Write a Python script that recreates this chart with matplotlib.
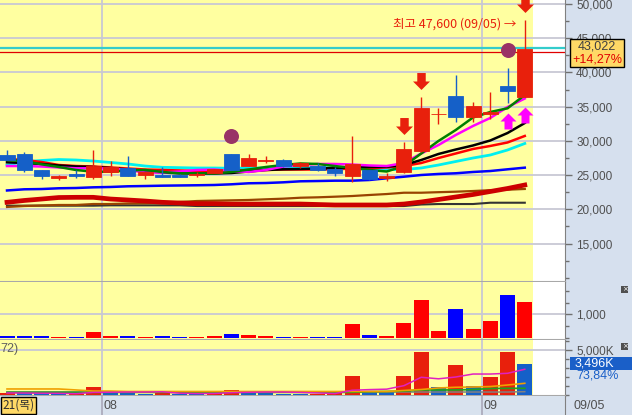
import numpy as np
import matplotlib.pyplot as plt
import matplotlib.ticker as mticker
from matplotlib.patches import Rectangle
from matplotlib.path import Path
from matplotlib.transforms import offset_copy, blended_transform_factory


###  Data  (31 trading days)

dates = ['07/22', '07/25', '07/26', '07/27', '07/28', '07/29',
         '08/01', '08/02', '08/03', '08/04', '08/05',
         '08/08', '08/09', '08/10', '08/11', '08/12',
         '08/16', '08/17', '08/18', '08/19',
         '08/22', '08/23', '08/24', '08/25', '08/26',
         '08/29', '08/30', '08/31',
         '09/01', '09/02', '09/05']

opn = [27950, 28100, 25750, 24600, 25150, 24750, 25450, 26100, 25000, 25050, 25000,
       24950, 25350, 28100, 26350, 27100, 27200, 26350, 26350, 25850, 24850,
       25750, 24550, 25500, 28550, 33900, 36550, 33550, 33900, 38000, 36450]
high = [28650, 28400, 25750, 25000, 25750, 28650, 27050, 27800, 25500, 26250, 25100,
        25500, 25900, 28100, 28100, 27800, 27350, 26900, 26800, 26250, 30700,
        25800, 25350, 29900, 36450, 34750, 39600, 35700, 37200, 40600, 47600]
low = [27200, 25450, 24500, 24300, 24600, 24500, 24850, 24850, 24450, 24700, 24700,
       24700, 25300, 25750, 26350, 26750, 26250, 26100, 25650, 24850, 24050,
       24350, 24200, 25300, 28400, 32400, 32800, 32800, 33150, 35500, 36450]
close = [27200, 25750, 24850, 24850, 24850, 26350, 26200, 24850, 25500, 24750, 24750,
         25100, 25850, 25750, 27500, 27150, 26350, 26800, 25750, 25350, 26600,
         24450, 24850, 28800, 34750, 33950, 33550, 35100, 34250, 37350, 43400]

# moving averages on price
ma_green = [27210, 27060, 26580, 26190, 25750, 25500, 25500, 25680, 25750, 25460, 25270,
            25270, 25240, 25460, 25820, 26190, 26480, 26700, 26630, 26330, 26040,
            25750, 25530, 26330, 28160, 29990, 31590, 33420, 34220, 34760, 36700]
ma_magenta = [26330, 26330, 26260, 26120, 26000, 26000, 25970, 25750, 25380, 25380, 25530,
              25750, 25820, 25600, 25460, 25750, 26260, 26480, 26630, 26630, 26550,
              26410, 26330, 26770, 28160, 29400, 30860, 32180, 33350, 34950, 36190]
ma_black = [26870, 26770, 26630, 26410, 26260, 26190, 26040, 25820, 25600, 25380, 25270,
            25240, 25240, 25310, 25530, 25750, 25850, 25900, 25970, 26040, 26120,
            26190, 26230, 26480, 27210, 28090, 28740, 29330, 30060, 31150, 32610]
ma_red = [27360, 27210, 26920, 26480, 26330, 26260, 26120, 25970, 25820, 25750, 25680,
          25600, 25600, 25680, 25750, 25750, 25820, 25820, 25820, 25850, 25970,
          26040, 26120, 26330, 26770, 27500, 28160, 28820, 29260, 29770, 30720]
ma_cyan = [26480, 26960, 27140, 27280, 27210, 27060, 26850, 26630, 26330, 26140, 26090,
           26040, 26040, 26000, 26040, 26040, 26040, 26090, 26090, 26040, 26040,
           25970, 25820, 25820, 26040, 26480, 26990, 27500, 27940, 28670, 29620]
ma_blue = [22760, 22930, 22970, 23080, 23120, 23220, 23270, 23370, 23410, 23460, 23490,
           23520, 23560, 23660, 23810, 23850, 23950, 24100, 24140, 24190, 24190,
           24290, 24540, 24770, 25020, 25170, 25270, 25460, 25600, 25850, 26090]
ma_darkred = [21030, 21300, 21510, 21730, 21760, 21760, 21510, 21370, 21220, 21030, 20930,
              20830, 20830, 20780, 20780, 20780, 20780, 20780, 20710, 20640, 20640,
              20640, 20640, 20780, 21080, 21440, 21810, 22170, 22610, 23050, 23560]
ma_brown = [20350, 20490, 20570, 20640, 20640, 20780, 20780, 20860, 20890, 20930, 21080,
            21220, 21270, 21320, 21370, 21470, 21560, 21700, 21760, 21850, 21950,
            22100, 22240, 22430, 22430, 22510, 22580, 22680, 22800, 22870, 22980]
ma_gray = [20540, 20540, 20540, 20540, 20540, 20540, 20590, 20590, 20590, 20590, 20590,
           20490, 20490, 20490, 20490, 20490, 20490, 20490, 20490, 20490, 20490,
           20490, 20490, 20490, 20710, 20780, 20780, 20780, 20970, 20970, 20970]

cur_price = 43022
cur_change = '+14,27%'
prev_line = 43600
high_text = '최고 47,600 (09/05) →'

down_arrows = [23, 24, 30]
up_arrows = [29, 30]
circles = [13, 29]

# pane 2 (trading value) and pane 3 (volume, K)
amount = [70, 70, 70, 30, 30, 240, 85, 70, 30, 70, 30,
          30, 70, 170, 115, 70, 30, 30, 30, 45, 600,
          115, 75, 640, 1610, 285, 1225, 370, 710, 1820, 1520]
volume = [200, 180, 170, 100, 110, 900, 300, 250, 100, 250, 120,
          110, 250, 560, 450, 260, 120, 100, 120, 180, 2110,
          450, 370, 2110, 4810, 930, 3330, 1000, 2040, 4810, 3496]
vma_magenta = [230, 220, 200, 190, 150, 290, 310, 330, 330, 360, 200,
               160, 170, 260, 300, 330, 330, 290, 230, 160, 530,
               600, 650, 1040, 1970, 1800, 2000, 2330, 2330, 2410, 2860]
vma_orange = [670, 670, 670, 670, 560, 440, 440, 390, 390, 390, 390,
              390, 390, 390, 390, 390, 390, 390, 390, 390, 390,
              390, 390, 500, 610, 780, 860, 890, 940, 1110, 1300]
vma_green = [300, 300, 300, 300, 300, 300, 300, 300, 300, 300, 300,
             300, 300, 300, 300, 300, 300, 300, 300, 300, 300,
             370, 390, 440, 560, 560, 560, 610, 720, 740, 740]
vma_gray = [330, 330, 330, 330, 330, 330, 330, 330, 330, 330, 330,
            330, 330, 330, 330, 330, 330, 330, 330, 330, 330,
            330, 330, 330, 330, 330, 330, 330, 330, 330, 370]
vol_label = '3,496K'
vol_ratio = '73,84%'

price_ticks = [15000, 20000, 25000, 30000, 35000, 40000, 45000, 50000]


###  Style

W, H = 632, 415
UP, DN = '#e8200c', '#1560c8'
YELLOW = '#ffffa0'
PANEL = '#d6e0ee'
GRID = '#c8c8d4'
TXT = '#505050'
NUMF = ['Liberation Sans', 'DejaVu Sans']
KR = ['Noto Sans CJK KR', 'DejaVu Sans']
FS = 8.5

n = len(dates)
x = np.arange(n)
opn, high, low, close = map(np.array, (opn, high, low, close))
cols = [UP if c_ >= o_ else DN for o_, c_ in zip(opn, close)]
cols2 = ['#ff0000' if c_ >= o_ else '#0000ff' for o_, c_ in zip(opn, close)]
cols3 = [UP if i == 0 or volume[i] >= volume[i - 1] else DN for i in range(n)]
months = [(i - 0.5, dates[i][:2]) for i in range(1, n) if dates[i][:2] != dates[i - 1][:2]]


def box(x0, y0, x1, y1):
    return [x0 / W, 1 - y1 / H, (x1 - x0) / W, (y1 - y0) / H]


fig = plt.figure(figsize=(W / 100, H / 100), dpi=100, facecolor=PANEL)
ax1 = fig.add_axes(box(0, 0, 565, 282))
ax2 = fig.add_axes(box(0, 282, 565, 339.5), sharex=ax1)
ax3 = fig.add_axes(box(0, 339.5, 565, 396), sharex=ax1)
axd = fig.add_axes(box(0, 396, 565, 415), sharex=ax1)

for ax in (ax1, ax2, ax3):
    ax.set_facecolor('white')
    ax.axvspan(-1, n - 1 + 0.47, color=YELLOW, lw=0, zorder=0)
    for b, _ in months:
        ax.axvline(b, color=GRID, lw=1.3, zorder=0.5)
    ax.yaxis.tick_right()
    ax.tick_params(axis='y', which='major', direction='out', length=5, width=1,
                   color='#707070', labelsize=FS, labelcolor=TXT, pad=3,
                   labelfontfamily=NUMF)
    ax.tick_params(axis='y', which='minor', direction='out', length=3, width=1, color='#707070')
    ax.tick_params(axis='x', bottom=False, labelbottom=False)
    ax.grid(axis='y', which='major', color=GRID, lw=1.3, zorder=0.5)
    ax.set_axisbelow(True)
    for s in ('top', 'left'):
        ax.spines[s].set_visible(False)
    ax.spines['right'].set_color('#808080')
    ax.spines['bottom'].set_color('#a8a8a8')
    ax.spines['bottom'].set_linewidth(1.5)

ax1.set_xlim(-0.406, 32.33)


###  Price pane

ax1.set_ylim(9392, 50578)
ax1.yaxis.set_major_locator(mticker.FixedLocator(price_ticks))
ax1.yaxis.set_minor_locator(mticker.MultipleLocator(2500))
ax1.yaxis.set_major_formatter(mticker.FuncFormatter(lambda v, p: f'{v:,.0f}'))

ax1.axhline(prev_line, color='#33cccc', lw=1.6, zorder=1)
ax1.axhline(cur_price, color='#e00000', lw=0.9, zorder=1)

ax1.plot(x, ma_gray, color='#333333', lw=1.5, zorder=2)
ax1.plot(x, ma_brown, color='#994400', lw=1.6, zorder=2)
ax1.plot(x, ma_darkred, color='#cc0000', lw=3.4, zorder=2)
ax1.plot(x, ma_blue, color='#0000ff', lw=1.8, zorder=2)
ax1.plot(x, ma_cyan, color='#00f0f0', lw=2, zorder=2)
ax1.plot(x, ma_red, color='#ff0000', lw=1.8, zorder=2)
ax1.plot(x, ma_black, color='#000000', lw=1.8, zorder=2)
ax1.plot(x, ma_magenta, color='#ff00ff', lw=1.8, zorder=2)
ax1.plot(x, ma_green, color='#008000', lw=1.8, zorder=2)

ax1.vlines(x, low, high, colors=cols, lw=1.0, zorder=3)
ax1.bar(x, np.abs(close - opn), bottom=np.minimum(opn, close), width=0.87,
        color=cols, edgecolor=cols, lw=0.6, zorder=4)

# signal marks
down = Path([(-0.25, 0.5), (0.25, 0.5), (0.25, 0.0), (0.5, 0.0), (0.0, -0.5),
             (-0.5, 0.0), (-0.25, 0.0), (-0.25, 0.5)],
            [Path.MOVETO] + [Path.LINETO] * 6 + [Path.CLOSEPOLY])
up = Path([(vx, -vy) for vx, vy in down.vertices], down.codes)

ax1.plot(x[down_arrows], high[down_arrows], ls='none', marker=down, ms=12.2,
         color=UP, mec='none', zorder=6,
         transform=offset_copy(ax1.transData, fig=fig, y=16, units='dots'))
ax1.plot(x[up_arrows], low[up_arrows], ls='none', marker=up, ms=11.5,
         color='#ff00ff', mec='none', zorder=6,
         transform=offset_copy(ax1.transData, fig=fig, y=-18, units='dots'))
ax1.plot(x[circles], high[circles], ls='none', marker='o', ms=10.8,
         color='#993366', mec='none', zorder=6,
         transform=offset_copy(ax1.transData, fig=fig, y=18, units='dots'))

imax = int(np.argmax(high))
ax1.text(x[imax], high[imax], high_text, ha='right', va='center', color=UP,
         fontsize=9, family=KR, zorder=7,
         transform=offset_copy(ax1.transData, fig=fig, x=-8, y=-4, units='dots'))

# current price box (covers the 45,000 label as in the terminal)
fig.add_artist(Rectangle((570 / W, 1 - 67 / H), 54 / W, 28 / H, transform=fig.transFigure,
                         facecolor='#ffd966', edgecolor='black', lw=1, zorder=10))
fig.text(597 / W, 1 - 46.5 / H, f'{cur_price:,}', ha='center', va='center', color='#404040',
         fontsize=FS + 0.5, family=NUMF, zorder=11)
fig.text(597 / W, 1 - 59.5 / H, cur_change, ha='center', va='center', color='#e00000',
         fontsize=FS + 0.5, family=NUMF, zorder=11)


###  Pane 2: trading value

ax2.set_ylim(-77, 2380)
ax2.yaxis.set_major_locator(mticker.FixedLocator([1000]))
ax2.yaxis.set_minor_locator(mticker.MultipleLocator(500))
ax2.yaxis.set_major_formatter(mticker.FuncFormatter(lambda v, p: f'{v:,.0f}'))
ax2.bar(x, amount, width=0.87, color=cols2, zorder=3)


###  Pane 3: volume

ax3.set_ylim(-111, 6167)
ax3.yaxis.set_major_locator(mticker.FixedLocator([5000]))
ax3.yaxis.set_minor_locator(mticker.MultipleLocator(1000))
ax3.yaxis.set_major_formatter(mticker.FuncFormatter(lambda v, p: f'{v:,.0f}K'))
ax3.bar(x, volume, width=0.87, color=cols3, zorder=3)
ax3.plot(x, vma_gray, color='#808080', lw=1.1, zorder=4)
ax3.plot(x, vma_green, color='#20a020', lw=1.3, zorder=4)
ax3.plot(x, vma_orange, color='#f0a000', lw=1.2, zorder=4)
ax3.plot(x, vma_magenta, color='#e020c0', lw=1.1, zorder=4)
ax3.text(0.0, 0.84, '72)', transform=ax3.transAxes, ha='left', va='center',
         color='#606060', fontsize=FS + 0.5, family=NUMF)

fig.add_artist(Rectangle((570 / W, 1 - 370 / H), 62 / W, 13 / H, transform=fig.transFigure,
                         facecolor='#1a5fc8', edgecolor='none', zorder=10))
fig.text(575 / W, 1 - 363.5 / H, vol_label, ha='left', va='center', color='white',
         fontsize=FS + 0.5, family=NUMF, zorder=11)
fig.text(576 / W, 1 - 375 / H, vol_ratio, ha='left', va='center', color='#1a5fc8',
         fontsize=FS + 0.5, family=NUMF, zorder=11)

# small close buttons
for yb in (286, 343):
    fig.add_artist(Rectangle((621 / W, 1 - (yb + 7) / H), 7 / W, 7 / H, transform=fig.transFigure,
                             facecolor='#505050', edgecolor='none', zorder=10))
    fig.text(624.5 / W, 1 - (yb + 3.5) / H, '×', ha='center', va='center', color='white',
             fontsize=5, zorder=11)


###  Date row

axd.set_facecolor('#d8e2ee')
axd.set_ylim(0, 1)
axd.set_yticks([])
axd.tick_params(axis='x', bottom=False, labelbottom=False)
for s in ('top', 'left', 'bottom'):
    axd.spines[s].set_visible(False)
axd.spines['right'].set_color('#808080')
tr = blended_transform_factory(axd.transData, axd.transAxes)
for b, lab in months:
    axd.axvline(b, color='#a8a8b8', lw=1.2)
    axd.text(b + 0.1, 0.48, lab, transform=tr, ha='left', va='center', color=TXT,
             fontsize=FS + 0.5, family=NUMF)
fig.add_artist(Rectangle((0.5 / W, 1 - 414 / H), 35.5 / W, 17 / H, transform=fig.transFigure,
                         facecolor='#ffd966', edgecolor='black', lw=1, zorder=10))
fig.text(2 / W, 1 - 405.5 / H, '21(목)', ha='left', va='center', color='#303030',
         fontsize=8.5, family=KR, zorder=11)
fig.text(573 / W, 1 - 405.5 / H, dates[-1], ha='left', va='center', color=TXT,
         fontsize=FS + 0.5, family=NUMF)

plt.savefig('out.png', dpi=100, facecolor=PANEL)
